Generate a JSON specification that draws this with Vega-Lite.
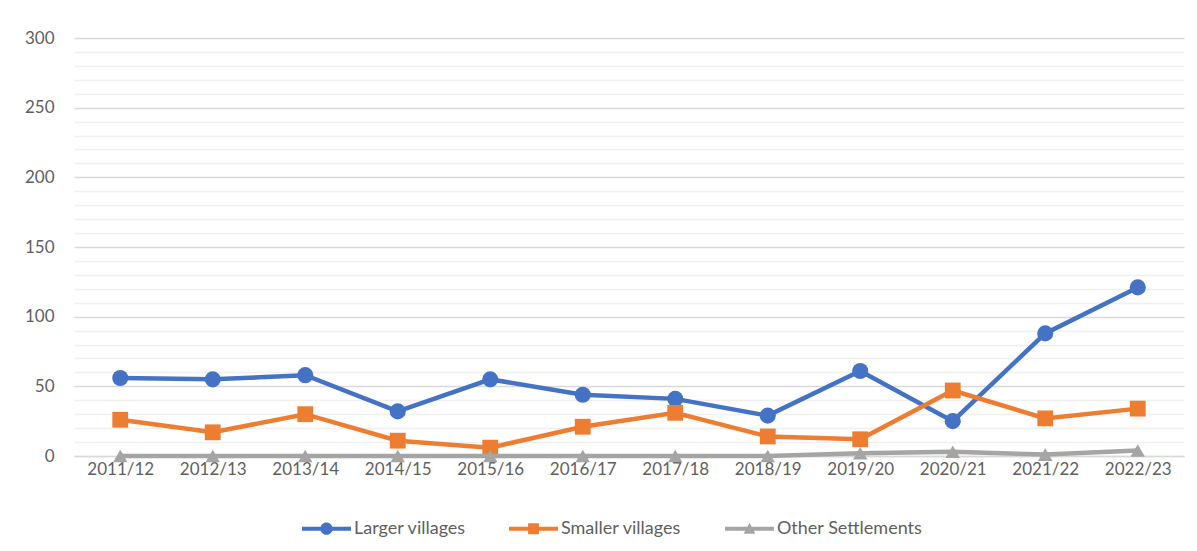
{
  "$schema": "https://vega.github.io/schema/vega-lite/v6.json",
  "width": 1110,
  "height": 418,
  "autosize": "none",
  "padding": {"left": 74, "top": 38, "right": 13, "bottom": 95},
  "background": "white",
  "config": {
    "view": {"stroke": null},
    "font": "Lato",
    "axis": {"labelFont": "Lato", "labelColor": "#5f5f5f", "labelFontSize": 17}
  },
  "data": {
    "values": [
      {"year": "2011/12", "series": "Larger villages", "value": 56},
      {"year": "2012/13", "series": "Larger villages", "value": 55},
      {"year": "2013/14", "series": "Larger villages", "value": 58},
      {"year": "2014/15", "series": "Larger villages", "value": 32},
      {"year": "2015/16", "series": "Larger villages", "value": 55},
      {"year": "2016/17", "series": "Larger villages", "value": 44},
      {"year": "2017/18", "series": "Larger villages", "value": 41},
      {"year": "2018/19", "series": "Larger villages", "value": 29},
      {"year": "2019/20", "series": "Larger villages", "value": 61},
      {"year": "2020/21", "series": "Larger villages", "value": 25},
      {"year": "2021/22", "series": "Larger villages", "value": 88},
      {"year": "2022/23", "series": "Larger villages", "value": 121},
      {"year": "2011/12", "series": "Smaller villages", "value": 26},
      {"year": "2012/13", "series": "Smaller villages", "value": 17},
      {"year": "2013/14", "series": "Smaller villages", "value": 30},
      {"year": "2014/15", "series": "Smaller villages", "value": 11},
      {"year": "2015/16", "series": "Smaller villages", "value": 6},
      {"year": "2016/17", "series": "Smaller villages", "value": 21},
      {"year": "2017/18", "series": "Smaller villages", "value": 31},
      {"year": "2018/19", "series": "Smaller villages", "value": 14},
      {"year": "2019/20", "series": "Smaller villages", "value": 12},
      {"year": "2020/21", "series": "Smaller villages", "value": 47},
      {"year": "2021/22", "series": "Smaller villages", "value": 27},
      {"year": "2022/23", "series": "Smaller villages", "value": 34},
      {"year": "2011/12", "series": "Other Settlements", "value": 0},
      {"year": "2012/13", "series": "Other Settlements", "value": 0},
      {"year": "2013/14", "series": "Other Settlements", "value": 0},
      {"year": "2014/15", "series": "Other Settlements", "value": 0},
      {"year": "2015/16", "series": "Other Settlements", "value": 0},
      {"year": "2016/17", "series": "Other Settlements", "value": 0},
      {"year": "2017/18", "series": "Other Settlements", "value": 0},
      {"year": "2018/19", "series": "Other Settlements", "value": 0},
      {"year": "2019/20", "series": "Other Settlements", "value": 2},
      {"year": "2020/21", "series": "Other Settlements", "value": 3},
      {"year": "2021/22", "series": "Other Settlements", "value": 1},
      {"year": "2022/23", "series": "Other Settlements", "value": 4}
    ]
  },
  "encoding": {
    "x": {
      "field": "year",
      "type": "ordinal",
      "sort": null,
      "scale": {"type": "point", "padding": 0.5},
      "axis": {
        "title": null,
        "labelAngle": 0,
        "ticks": false,
        "domain": true,
        "domainColor": "#D9D9D9",
        "domainWidth": 1.5,
        "grid": false,
        "labelPadding": 5
      }
    },
    "y": {
      "field": "value",
      "type": "quantitative",
      "scale": {"domain": [0, 300], "nice": false},
      "axis": {
        "title": null,
        "values": [0,10,20,30,40,50,60,70,80,90,100,110,120,130,140,150,160,170,180,190,200,210,220,230,240,250,260,270,280,290,300],
        "labelExpr": "datum.value % 50 === 0 ? datum.label : ''",
        "labelOverlap": false,
        "domain": false,
        "ticks": false,
        "grid": true,
        "gridColor": {"condition": {"test": "datum.value % 50 === 0", "value": "#D9D9D9"}, "value": "#F0F0F0"},
        "gridWidth": 1.3,
        "labelPadding": 20
      }
    }
  },
  "layer": [
    {
      "transform": [{"filter": "datum.series === 'Larger villages'"}],
      "mark": {"type": "line", "color": "#4472C4", "strokeWidth": 4.5,
        "point": {"filled": true, "shape": "circle", "size": 260, "color": "#4472C4", "opacity": 1}}
    },
    {
      "transform": [{"filter": "datum.series === 'Smaller villages'"}],
      "mark": {"type": "line", "color": "#ED7D31", "strokeWidth": 4.5,
        "point": {"filled": true, "shape": "square", "size": 250, "color": "#ED7D31", "opacity": 1}}
    },
    {
      "transform": [{"filter": "datum.series === 'Other Settlements'"}],
      "mark": {"type": "line", "color": "#A5A5A5", "strokeWidth": 4.5,
        "point": {"filled": true, "shape": "triangle-up", "size": 210, "color": "#A5A5A5", "opacity": 1}}
    },
    {
      "mark": {"type": "point", "filled": true, "opacity": 0},
      "encoding": {
        "color": {
          "field": "series",
          "type": "nominal",
          "scale": {"domain": ["Larger villages", "Smaller villages", "Other Settlements"], "range": ["#4472C4", "#ED7D31", "#A5A5A5"]},
          "legend": {"orient": "none", "legendX": 227, "legendY": 465, "direction": "horizontal", "title": null, "symbolSize": 2400, "labelFontSize": 18, "labelColor": "#5f5f5f", "labelFont": "Lato", "columnPadding": 40, "labelOffset": 2, "symbolOpacity": 1}
        },
        "shape": {
          "field": "series",
          "type": "nominal",
          "scale": {"domain": ["Larger villages", "Smaller villages", "Other Settlements"], "range": [
            "M-1,-0.08 H1 V0.08 H-1 Z M0.25,0 A0.25,0.25 0 1,1 -0.25,0 A0.25,0.25 0 1,1 0.25,0 Z",
            "M-1,-0.08 H1 V0.08 H-1 Z M-0.22,-0.22 H0.22 V0.22 H-0.22 Z",
            "M-1,-0.08 H1 V0.08 H-1 Z M0,-0.24 L0.24,0.2 L-0.24,0.2 Z"
          ]},
          "legend": {"orient": "none", "legendX": 227, "legendY": 465, "direction": "horizontal", "title": null, "symbolSize": 2400, "labelFontSize": 18, "labelColor": "#5f5f5f", "labelFont": "Lato", "columnPadding": 40, "labelOffset": 2, "symbolOpacity": 1}
        }
      }
    }
  ]
}
